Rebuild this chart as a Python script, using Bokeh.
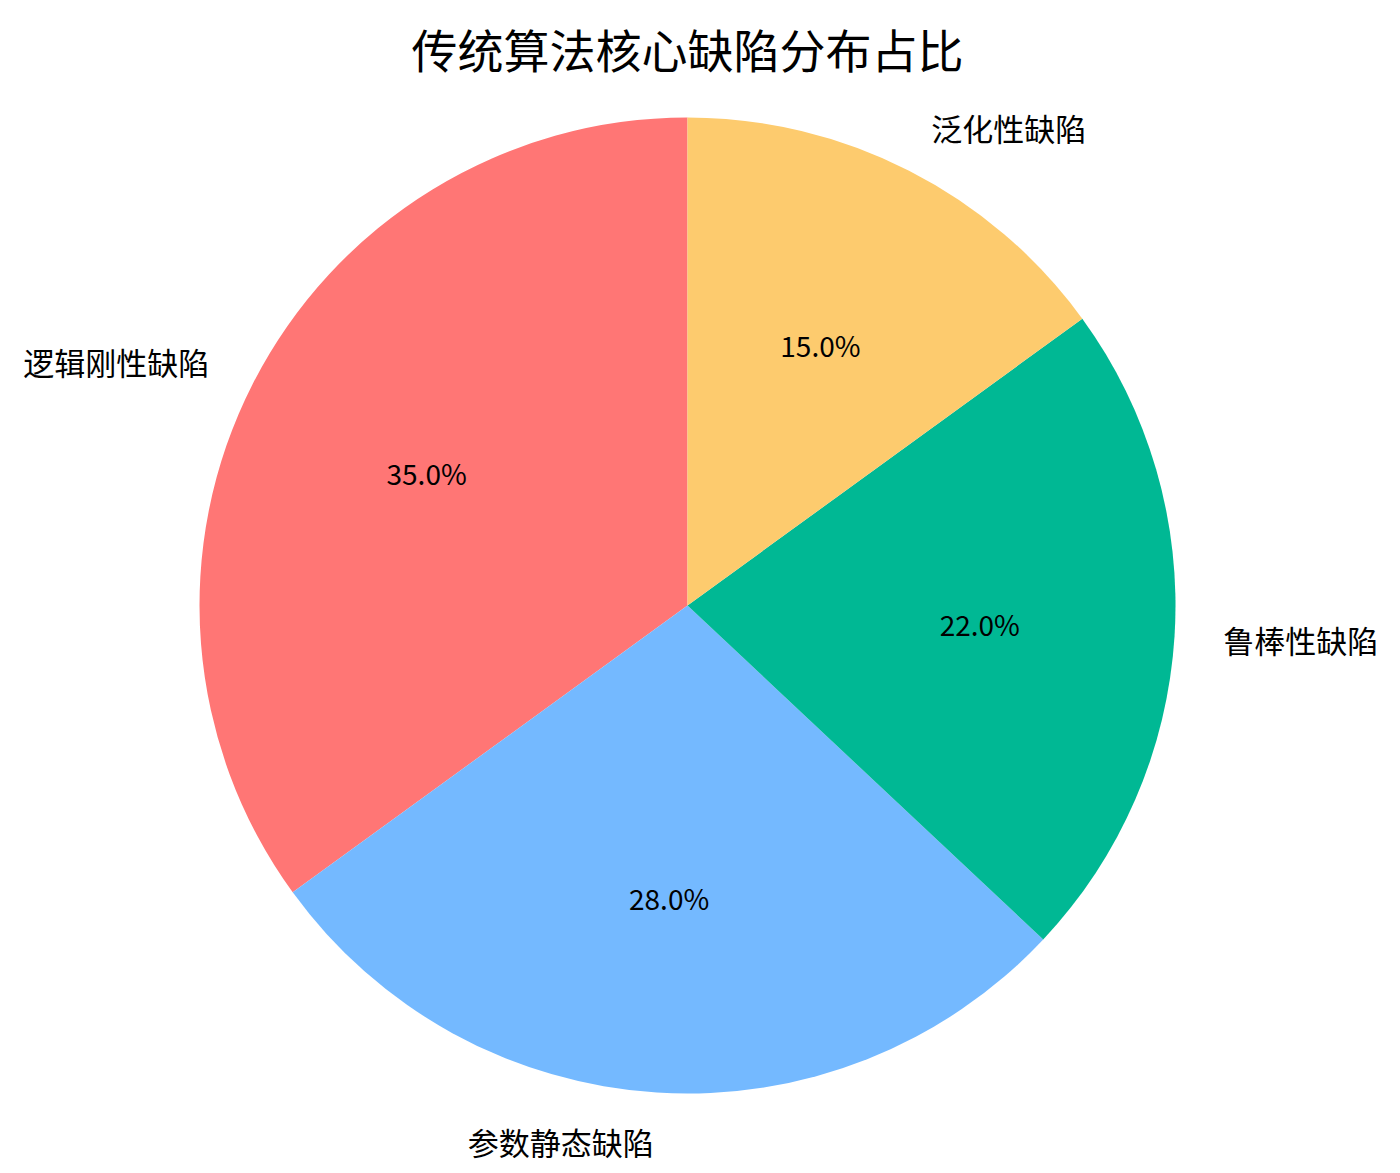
import numpy as np
from bokeh.plotting import figure
from bokeh.models import ColumnDataSource, Range1d, Label
from bokeh.core.properties import value
from bokeh.embed import file_html
from bokeh.resources import INLINE

title_text = "传统算法核心缺陷分布占比"
categories = ["逻辑刚性缺陷", "参数静态缺陷", "鲁棒性缺陷", "泛化性缺陷"]
shares = [35, 28, 22, 15]
colors = ["#ff7675", "#74b9ff", "#00b894", "#fdcb6e"]

W, H = 1384, 1168
cx_px, cy_px, r_px = 687, 605, 488  # pie centre (from top-left) / radius in pixels

vals = np.array(shares, dtype=float)
frac = vals / vals.sum()
start_deg = 90.0
ends = start_deg + np.cumsum(frac) * 360.0
starts = ends - frac * 360.0
mids = np.deg2rad((starts + ends) / 2.0)

lab_x = 1.1 * np.cos(mids)
lab_y = 1.1 * np.sin(mids)
pct_x = 0.6 * np.cos(mids)
pct_y = 0.6 * np.sin(mids)
aligns = ["left" if x > 0 else "right" for x in lab_x]
pct_text = [f"{f*100:.1f}%" for f in frac]

src = ColumnDataSource(dict(
    cat=categories, start=np.deg2rad(starts), end=np.deg2rad(ends), color=colors,
    lx=lab_x, ly=lab_y, align=aligns, px=pct_x, py=pct_y, pct=pct_text,
))

p = figure(width=W, height=H, output_backend="svg", toolbar_location=None,
           x_range=Range1d(-cx_px / r_px, (W - cx_px) / r_px),
           y_range=Range1d(-(H - cy_px) / r_px, cy_px / r_px),
           min_border=0, title=None)
p.axis.visible = False
p.grid.visible = False
p.outline_line_color = None
p.background_fill_color = "white"
p.border_fill_color = "white"

p.wedge(x=0, y=0, radius=1.0, start_angle="start", end_angle="end",
        fill_color="color", line_color=None, source=src)

p.text(x="lx", y="ly", text="cat", text_align="align", text_baseline="middle",
       text_font=value("Noto Sans CJK SC"), text_font_size="31px",
       text_color="black", source=src)
p.text(x="px", y="py", text="pct", text_align="center", text_baseline="middle",
       text_font=value("Noto Sans CJK SC"), text_font_size="28px",
       text_color="black", source=src)

p.add_layout(Label(x=cx_px, y=H - 47, x_units="screen", y_units="screen",
                   text=title_text, text_align="center", text_baseline="middle",
                   text_font="Noto Sans CJK SC", text_font_size="46px",
                   text_font_style="normal", text_color="black"))

open("out.html", "w").write(file_html(p, INLINE))
